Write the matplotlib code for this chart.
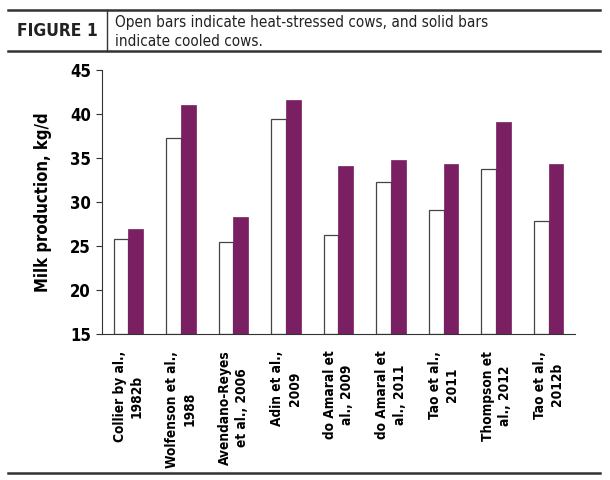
import numpy as np
import matplotlib
matplotlib.use("Agg")
import matplotlib.pyplot as plt
from matplotlib.lines import Line2D

studies = ["Collier by al.,\n1982b", "Wolfenson et al.,\n1988", "Avendano-Reyes\net al., 2006",
           "Adin et al.,\n2009", "do Amaral et\nal., 2009", "do Amaral et\nal., 2011",
           "Tao et al.,\n2011", "Thompson et\nal., 2012", "Tao et al.,\n2012b"]
heat_stressed = [25.8, 37.3, 25.4, 39.4, 26.3, 32.3, 29.1, 33.8, 27.8]
cooled = [26.9, 41.0, 28.3, 41.6, 34.1, 34.8, 34.3, 39.1, 34.3]

purple = "#7a1f62"
narrow = ["Liberation Sans Narrow", "DejaVu Sans Condensed", "DejaVu Sans"]

fig = plt.figure(figsize=(6.1, 4.8), dpi=100)
ax = fig.add_axes([0.1672, 0.3042, 0.7754, 0.55])

x = np.arange(len(studies))
w = 0.28
ax.bar(x - w / 2, [h - 15 for h in heat_stressed], w, bottom=15, color="white",
       edgecolor="#444444", linewidth=0.9)
ax.bar(x + w / 2, [c - 15 for c in cooled], w, bottom=15, color=purple,
       edgecolor=purple, linewidth=0.5)

ax.set_xlim(-0.5, len(studies) - 0.5)
ax.set_ylim(15, 45)
ax.set_yticks(range(15, 50, 5))
for s in ["top", "right"]:
    ax.spines[s].set_visible(False)
ax.spines["left"].set_color("#333333")
ax.spines["bottom"].set_color("#333333")
ax.tick_params(axis="y", direction="out", length=4, color="#333333", pad=4)
ax.tick_params(axis="x", length=0, pad=12)
ax.set_xticks(x)
ax.set_xticklabels(studies, rotation=90, fontsize=9.8, fontweight="bold", fontstretch="condensed",
                   family=narrow, ha="center", va="top", multialignment="center",
                   linespacing=1.3)
for lab in ax.get_yticklabels():
    lab.set_family(narrow)
    lab.set_fontweight("bold")
    lab.set_fontstretch("condensed")
    lab.set_fontsize(12)
ax.set_ylabel("Milk production, kg/d", fontsize=12, fontweight="bold", fontstretch="condensed",
              family=narrow, labelpad=13)

# header box
fig.add_artist(Line2D([8 / 610, 600 / 610], [1 - 10 / 480] * 2, color="#333333", lw=1.8))
fig.add_artist(Line2D([8 / 610, 600 / 610], [1 - 51 / 480] * 2, color="#333333", lw=1.8))
fig.add_artist(Line2D([107 / 610] * 2, [1 - 10 / 480, 1 - 51 / 480], color="#333333", lw=1))
fig.add_artist(Line2D([8 / 610, 600 / 610], [1 - 473 / 480] * 2, color="#333333", lw=1.8))
fig.text(17 / 610, 1 - 31 / 480, "FIGURE 1", fontsize=12.5, fontweight="heavy",
         fontstretch="condensed", family=narrow, va="center", ha="left", color="#222222")
fig.text(115 / 610, 1 - 32 / 480, "Open bars indicate heat-stressed cows, and solid bars\nindicate cooled cows.",
         fontsize=11, va="center", ha="left", color="#222222", linespacing=1.3,
         fontstretch="condensed", family=narrow)

fig.savefig("out.png", dpi=100)
